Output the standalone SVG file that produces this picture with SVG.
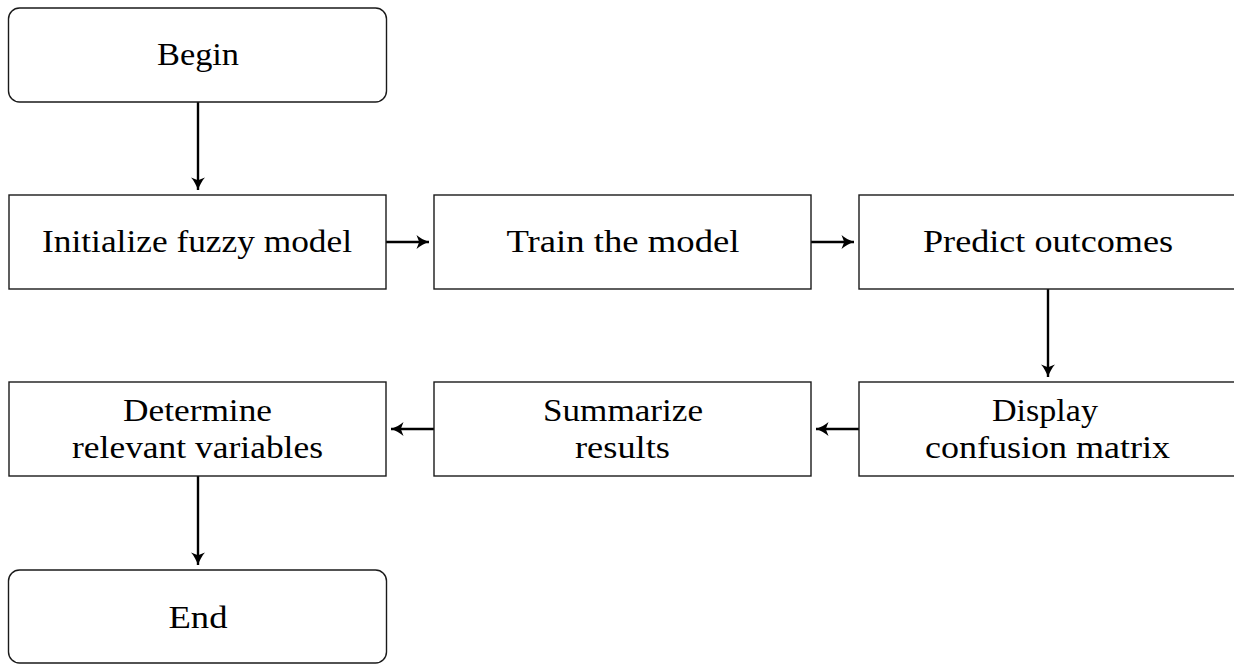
<svg xmlns="http://www.w3.org/2000/svg" width="1234" height="664" viewBox="0 0 1234 664">
<style>
.box{fill:#fff;stroke:#1a1a1a;stroke-width:1.4}
.t{font-family:"Liberation Serif","Times New Roman",serif;font-size:32px;fill:#000;text-anchor:middle}
.c{stroke:#000;stroke-width:2.4;fill:none}
</style>
<defs>
<marker id="ah" markerUnits="userSpaceOnUse" viewBox="-16 -9 18 18" refX="0" refY="0" markerWidth="18" markerHeight="18" orient="auto" overflow="visible">
<path d="M0,0 C-4.5,-1.6 -9.5,-4.2 -12.5,-7 L-9.8,0 L-12.5,7 C-9.5,4.2 -4.5,1.6 0,0 Z" fill="#000"/>
</marker>
</defs>
<rect width="1234" height="664" fill="#fff"/>
<g id="connectors">
<path class="c" d="M198,102 L198,190" marker-end="url(#ah)"/>
<path class="c" d="M386,242 L429,242" marker-end="url(#ah)"/>
<path class="c" d="M811,242 L854,242" marker-end="url(#ah)"/>
<path class="c" d="M1048,289 L1048,377" marker-end="url(#ah)"/>
<path class="c" d="M859,429 L816,429" marker-end="url(#ah)"/>
<path class="c" d="M434,429 L391,429" marker-end="url(#ah)"/>
<path class="c" d="M198,476 L198,565" marker-end="url(#ah)"/>
</g>
<g id="begin">
<rect class="box" x="8.5" y="8" width="378" height="94" rx="11"/>
<text class="t" x="198" y="64.5" textLength="82" lengthAdjust="spacingAndGlyphs">Begin</text>
</g>
<g id="init">
<rect class="box" x="9" y="195" width="377" height="94"/>
<text class="t" x="197" y="251.5" textLength="310" lengthAdjust="spacingAndGlyphs">Initialize fuzzy model</text>
</g>
<g id="train">
<rect class="box" x="434" y="195" width="377" height="94"/>
<text class="t" x="623" y="252" textLength="233" lengthAdjust="spacingAndGlyphs">Train the model</text>
</g>
<g id="predict">
<rect class="box" x="859" y="195" width="380" height="94"/>
<text class="t" x="1048" y="252" textLength="250" lengthAdjust="spacingAndGlyphs">Predict outcomes</text>
</g>
<g id="display">
<rect class="box" x="859" y="382" width="380" height="94"/>
<text class="t" x="1045" y="421" textLength="106" lengthAdjust="spacingAndGlyphs">Display</text>
<text class="t" x="1047.5" y="458" textLength="245" lengthAdjust="spacingAndGlyphs">confusion matrix</text>
</g>
<g id="summarize">
<rect class="box" x="434" y="382" width="377" height="94"/>
<text class="t" x="623" y="421" textLength="160" lengthAdjust="spacingAndGlyphs">Summarize</text>
<text class="t" x="622.5" y="458" textLength="95" lengthAdjust="spacingAndGlyphs">results</text>
</g>
<g id="determine">
<rect class="box" x="9" y="382" width="377" height="94"/>
<text class="t" x="197.5" y="421" textLength="149" lengthAdjust="spacingAndGlyphs">Determine</text>
<text class="t" x="197.5" y="458" textLength="251" lengthAdjust="spacingAndGlyphs">relevant variables</text>
</g>
<g id="end">
<rect class="box" x="8.5" y="570" width="378" height="93" rx="11"/>
<text class="t" x="198" y="628" textLength="59" lengthAdjust="spacingAndGlyphs">End</text>
</g>
</svg>
